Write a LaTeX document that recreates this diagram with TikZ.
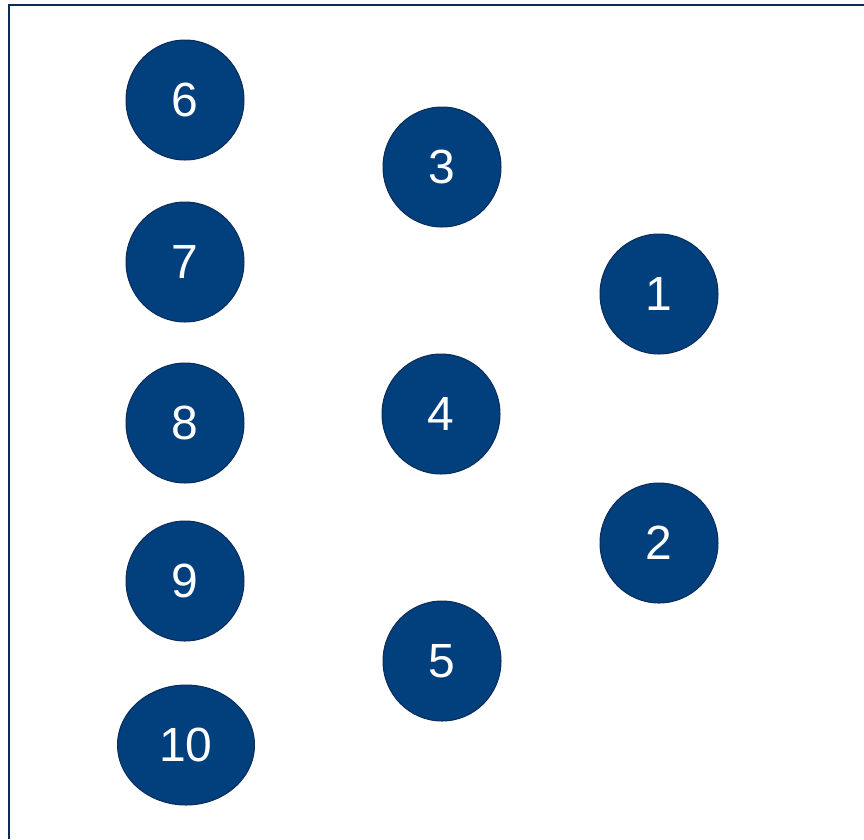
\documentclass[tikz,border=0pt]{standalone}
\usepackage{fontspec}
\setmainfont{Liberation Sans}
\usetikzlibrary{shapes.geometric}
\definecolor{navyfill}{HTML}{023F7D}
\definecolor{navyline}{HTML}{0C2C58}
\begin{document}
\begin{tikzpicture}[x=1pt, y=-1pt,
    bubble/.style={ellipse, draw=navyline, fill=navyfill, line width=1pt,
      text=white, inner sep=0pt, minimum width=118pt, minimum height=120pt,
      font=\fontsize{48}{50}\selectfont}]
      \useasboundingbox (0,0) rectangle (864,839);
      \draw[navyline, line width=2.6pt] (9,839) -- (9,5) -- (864,5);

      % left column
      \node[bubble] (n6) at (185,100) {6};
      \node[bubble] (n7) at (185,262) {7};
      \node[bubble] (n8) at (185,423) {8};
      \node[bubble] (n9) at (185,581) {9};
      \node[bubble, minimum width=137pt] (n10) at (186,745) {10};

      % middle column
      \node[bubble] (n3) at (442,167) {3};
      \node[bubble] (n4) at (441,414) {4};
      \node[bubble] (n5) at (442,661) {5};

      % right column
      \node[bubble] (n1) at (659,294) {1};
      \node[bubble] (n2) at (659,543) {2};
    \end{tikzpicture}
\end{document}
